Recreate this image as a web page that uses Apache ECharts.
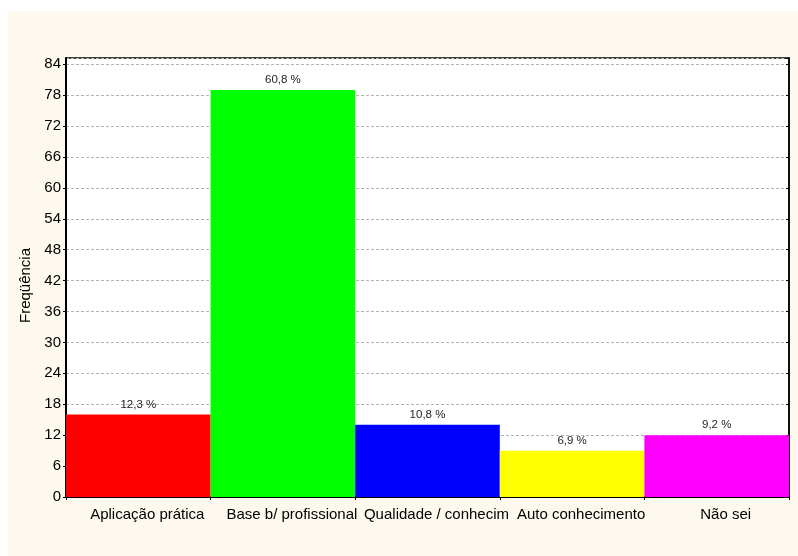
<!DOCTYPE html>
<html>
<head>
<meta charset="utf-8">
<script src="https://cdn.jsdelivr.net/npm/echarts@6/dist/echarts.min.js"></script>
<style>
  html, body { margin: 0; padding: 0; background: #fff; }
  #paper { position: absolute; left: 8px; top: 11px; width: 790px; height: 545px; background: #fdf9ee; }
  #chart { position: absolute; left: 0; top: 0; width: 798px; height: 556px; }
</style>
</head>
<body>
<div id="paper"></div>
<div id="chart"></div>
<script>
var categories = ['Aplicação prática', 'Base b/ profissional', 'Qualidade / conhecim', 'Auto conhecimento', 'Não sei'];
var counts = [16, 79, 14, 9, 12];
var barColors = ['#ff0000', '#00ff00', '#0000ff', '#ffff00', '#ff00ff'];
var yTicks = { min: 0, max: 85.2, interval: 6 };

var total = counts.reduce(function(a, b) { return a + b; }, 0);
var pct = function(v) {
	return (v / total * 100).toFixed(1).replace('.', ',') + ' %';
};

var byId = function(id) {
	return document.getElementById(id);
};

var option = {
	animation: false,
	grid: {
		left: 66,
		right: 9,
		top: 58,
		bottom: 59,
		show: true,
		backgroundColor: '#ffffff',
		borderColor: '#000',
		borderWidth: 1.5
	},
	xAxis: [{
		type: 'category',
		data: categories,
		axisLine: { lineStyle: { color: '#000', width: 2 } },
		axisTick: { show: true, length: 3, lineStyle: { color: '#000' } },
		axisLabel: {
			color: '#000', fontSize: 15, fontFamily: 'Liberation Sans',
			margin: 10, interval: 0, padding: [0, 0, 0, 18]
		}
	}, {
		type: 'category',
		position: 'top',
		data: categories,
		axisLine: { lineStyle: { color: '#000', width: 1.5 } },
		axisTick: { show: true, inside: true, length: 3, lineStyle: { color: '#000' } },
		axisLabel: { show: false }
	}],
	yAxis: [{
		type: 'value',
		min: yTicks.min,
		max: yTicks.max,
		interval: yTicks.interval,
		name: 'Freqüência',
		nameLocation: 'middle',
		nameGap: 27,
		nameTextStyle: { color: '#000', fontSize: 15, fontFamily: 'Liberation Sans', padding: [0, 16, 0, 0] },
		axisLine: { show: true, lineStyle: { color: '#000', width: 2 } },
		axisTick: { show: true, length: 3, lineStyle: { color: '#000' } },
		axisLabel: { color: '#000', fontSize: 15, fontFamily: 'Liberation Sans', margin: 5, showMaxLabel: false },
		splitLine: { lineStyle: { color: '#b4b4b4', type: [3, 2] } }
	}, {
		type: 'value',
		position: 'right',
		min: yTicks.min,
		max: yTicks.max,
		interval: yTicks.interval,
		axisLine: { show: true, lineStyle: { color: '#000', width: 1.5 } },
		axisTick: { show: true, inside: true, length: 3, lineStyle: { color: '#000' } },
		axisLabel: { show: false },
		splitLine: { show: false }
	}],
	series: [{
		type: 'bar',
		xAxisIndex: 0,
		yAxisIndex: 0,
		barCategoryGap: '0%',
		data: counts.map(function(v, i) {
			return { value: v, itemStyle: { color: barColors[i] } };
		}),
		label: {
			show: true,
			position: 'top',
			distance: 4,
			color: '#222',
			fontSize: 11.5,
			fontFamily: 'Liberation Sans',
			formatter: function(p) { return pct(p.value); }
		}
	}]
};

var barChart = echarts.init(byId('chart'));
barChart.setOption(option);
</script>
</body>
</html>
